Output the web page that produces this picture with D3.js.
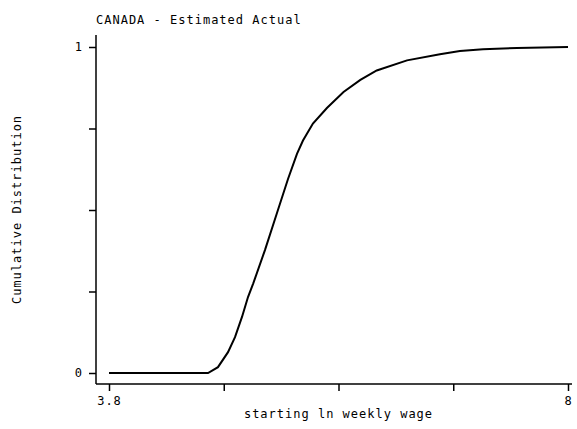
<!DOCTYPE html>
<html lang="en">
<head>
    <meta charset="UTF-8">
    <title>CANADA - Estimated Actual</title>
    <script src="https://cdn.jsdelivr.net/npm/d3@7"></script>
    <style>
        body { margin: 0; background: #fff; }
        text {
            font-family: "DejaVu Sans Mono", monospace;
            font-size: 12px;
            letter-spacing: 1px;
            fill: #000;
        }
        .axis line, .axis path { stroke: #000; stroke-width: 1.5; }
    </style>
</head>
<body>
<script>
	// data
	var wage = [3.8, 4.706, 4.797, 4.889, 4.953, 5.017, 5.072, 5.12, 5.227, 5.337, 5.438, 5.52, 5.575, 5.666, 5.794, 5.946, 6.1, 6.25, 6.527, 6.828, 7.011, 7.222, 7.533, 8.0];
	var cdf = [0, 0, 0.018, 0.064, 0.11, 0.172, 0.233, 0.275, 0.377, 0.491, 0.595, 0.672, 0.713, 0.765, 0.813, 0.862, 0.899, 0.928, 0.959, 0.978, 0.988, 0.993, 0.997, 1.0];
	var xTicks = [3.8, 4.85, 5.9, 6.95, 8];
	var yTicks = [0, 0.25, 0.5, 0.75, 1];

	var width = 577, height = 429;
	var svg = d3.select("body").append("svg")
		.attr("width", width)
		.attr("height", height);

	// plot frame
	var frameL = 96, frameR = 572, frameT = 35, frameB = 384;

	var x = d3.scaleLinear().domain([3.8, 8]).range([109, 568]);
	var y = d3.scaleLinear().domain([0, 1]).range([373, 47]);

	var xAxis = d3.axisBottom(x)
		.tickValues(xTicks)
		.tickSize(7)
		.tickPadding(3)
		.tickFormat(function (d) { return (d === 3.8 || d === 8) ? d3.format("")(d) : ""; });
	var yAxis = d3.axisLeft(y)
		.tickValues(yTicks)
		.tickSize(7)
		.tickPadding(6)
		.tickFormat(function (d) { return (d === 0 || d === 1) ? d : ""; });

	var gx = svg.append("g").attr("class", "axis").attr("transform", "translate(0," + frameB + ")").call(xAxis);
	gx.select(".domain").remove();
	gx.append("line").attr("x1", frameL).attr("x2", frameR).attr("y1", 0).attr("y2", 0);
	gx.selectAll("text").style("font-family", null).style("font-size", null).attr("dy", "0.9em");

	var gy = svg.append("g").attr("class", "axis").attr("transform", "translate(" + frameL + ",0)").call(yAxis);
	gy.select(".domain").remove();
	gy.append("line").attr("x1", 0).attr("x2", 0).attr("y1", frameT).attr("y2", frameB);
	gy.selectAll("text").style("font-family", null).style("font-size", null);

	// curve
	var line = d3.line()
		.x(function (d, i) { return x(wage[i]); })
		.y(function (d) { return y(d); });
	svg.append("path")
		.datum(cdf)
		.attr("d", line)
		.attr("fill", "none")
		.attr("stroke", "#000")
		.attr("stroke-width", 2);

	// titles
	svg.append("text").attr("x", 96).attr("y", 24).text("CANADA - Estimated Actual");
	svg.append("text").attr("x", (x(3.8) + x(8)) / 2).attr("y", 418)
		.attr("text-anchor", "middle").text("starting ln weekly wage");
	svg.append("text")
		.attr("transform", "translate(21," + (frameT + frameB) / 2 + ") rotate(-90)")
		.attr("text-anchor", "middle").text("Cumulative Distribution");
</script>
</body>
</html>
